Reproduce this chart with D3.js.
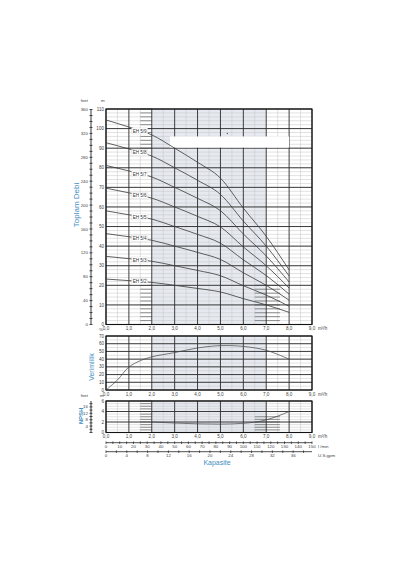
<!DOCTYPE html>
<html>
<head>
<meta charset="utf-8">
<script src="https://cdn.jsdelivr.net/npm/d3@7"></script>
<style>
  body { margin: 0; background: #fff; }
  text { font-family: "Liberation Sans", Arial, sans-serif; }
</style>
</head>
<body>
<div class="chartDiv"></div>
<script>
// Pump curves EH 5 series

const flow = [0, 1, 2, 3, 4, 5, 6, 7, 8];          // m3/h
const models = ["EH 5/9", "EH 5/8", "EH 5/7", "EH 5/6", "EH 5/5", "EH 5/4", "EH 5/3", "EH 5/2"];
const head59 = [104.4, 100.8, 96.8, 90.0, 82.8, 74.7, 59.4, 45.0, 27.9];
const head58 = [92.8, 89.6, 86.0, 80.0, 73.6, 66.4, 52.8, 40.0, 24.8];
const head57 = [81.2, 78.4, 75.3, 70.0, 64.4, 58.1, 46.2, 35.0, 21.7];
const head56 = [69.6, 67.2, 64.5, 60.0, 55.2, 49.8, 39.6, 30.0, 18.6];
const head55 = [58.0, 56.0, 53.8, 50.0, 46.0, 41.5, 33.0, 25.0, 15.5];
const head54 = [46.4, 44.8, 43.0, 40.0, 36.8, 33.2, 26.4, 20.0, 12.4];
const head53 = [34.8, 33.6, 32.3, 30.0, 27.6, 24.9, 19.8, 15.0, 9.3];
const head52 = [23.2, 22.4, 21.5, 20.0, 18.4, 16.6, 13.2, 10.0, 6.2];

const effFlow = [0, 0.5, 1, 1.5, 2, 3, 4, 5, 6, 7, 8];
const effValues = [0, 13, 29.8, 38, 43, 48.5, 54.5, 57.5, 56.5, 51.5, 40];   // %

const npshFlow = [2, 3, 4, 5, 6, 7, 8];
const npshValues = [2.0, 1.8, 1.65, 1.6, 1.75, 2.4, 4.0];                   // m

const flowTicks = [0, 1, 2, 3, 4, 5, 6, 7, 8, 9];
const headTicks = [0, 10, 20, 30, 40, 50, 60, 70, 80, 90, 100, 110];
const feetTicks = [0, 40, 80, 120, 160, 200, 240, 280, 320, 360];
const effTicks = [0, 10, 20, 30, 40, 50, 60, 70];
const npshTicks = [0, 2, 4, 6];
const npshFeetTicks = [4, 8, 12, 16];
const lminTicks = [0, 10, 20, 30, 40, 50, 60, 70, 80, 90, 100, 110, 120, 130, 140, 150];
const gpmTicks = [0, 4, 8, 12, 16, 20, 24, 28, 32, 36];

const heads = [head59, head58, head57, head56, head55, head54, head53, head52];

let svg = d3.select('.chartDiv')
            .append('svg')
            .attr('width', 400)
            .attr('height', 570);

const blue = '#3f8dc2';
const dark = '#2a2a2a';
const minorCol = '#c4c4c4';
const shade = '#e6eaf0';

let x = d3.scaleLinear().domain([0, 9]).range([106, 312]);
let yH = d3.scaleLinear().domain([0, 110]).range([324.5, 109]);
let yFt = d3.scaleLinear().domain([0, 110 * 3.2808]).range([324.5, 109]);
let yE = d3.scaleLinear().domain([0, 70]).range([390, 336]);
let yN = d3.scaleLinear().domain([0, 6]).range([432.5, 401]);
let yNFt = d3.scaleLinear().domain([0, 6 * 3.2808]).range([432.5, 401]);
let xL = d3.scaleLinear().domain([0, 150]).range([106, 312]);
let xG = d3.scaleLinear().domain([0, 9 * 4.4029]).range([106, 312]);

// panel with shading, grid, border and flow labels
let drawPanel = (y, majorStep, minorStep, hatch) => {
  let g = svg.append('g');
  let [y0, y1] = y.domain();

  g.append('rect')
   .attr('x', x(2)).attr('width', x(7) - x(2))
   .attr('y', y(y1)).attr('height', y(y0) - y(y1))
   .attr('fill', shade);

  d3.range(y0, y1 + 1e-9, minorStep).forEach(v => {
    g.append('line')
     .attr('x1', x(0)).attr('x2', x(9))
     .attr('y1', y(v)).attr('y2', y(v))
     .attr('stroke', minorCol).attr('stroke-width', 0.5);
  });
  d3.range(0.5, 9, 1).forEach(v => {
    g.append('line')
     .attr('x1', x(v)).attr('x2', x(v))
     .attr('y1', y(y0)).attr('y2', y(y1))
     .attr('stroke', minorCol).attr('stroke-width', 0.5);
  });

  // darker hatch segments seen in the original
  hatch.forEach(h => {
    d3.range(h[2], h[3] + 1e-9, minorStep).forEach(v => {
      g.append('line')
       .attr('x1', x(h[0])).attr('x2', x(h[1]))
       .attr('y1', y(v)).attr('y2', y(v))
       .attr('stroke', '#666').attr('stroke-width', 0.7);
    });
  });

  d3.range(y0, y1 + 1e-9, majorStep).forEach(v => {
    g.append('line')
     .attr('x1', x(0)).attr('x2', x(9))
     .attr('y1', y(v)).attr('y2', y(v))
     .attr('stroke', dark).attr('stroke-width', 0.9);
  });
  flowTicks.forEach(v => {
    g.append('line')
     .attr('x1', x(v)).attr('x2', x(v))
     .attr('y1', y(y0)).attr('y2', y(y1))
     .attr('stroke', dark).attr('stroke-width', 0.9);
  });

  g.append('rect')
   .attr('x', x(0)).attr('width', x(9) - x(0))
   .attr('y', y(y1)).attr('height', y(y0) - y(y1))
   .attr('fill', 'none').attr('stroke', '#111').attr('stroke-width', 1.1);

  g.selectAll('.fl')
   .data(flowTicks)
   .enter().append('text')
   .attr('x', d => x(d)).attr('y', y(y0) + 5.5)
   .attr('text-anchor', 'middle')
   .attr('font-size', 4.6).attr('fill', '#444')
   .text(d => d.toFixed(1).replace('.', ','));
  g.append('text')
   .attr('x', x(9) + 6).attr('y', y(y0) + 5.5)
   .attr('font-size', 4.6).attr('fill', '#444')
   .text('m³/h');
  return g;
};

let leftLabels = (y, ticks, xpos) => {
  svg.append('g').selectAll('text')
     .data(ticks)
     .enter().append('text')
     .attr('x', xpos).attr('y', d => y(d) + 1.6)
     .attr('text-anchor', 'end')
     .attr('font-size', 4.6).attr('fill', '#444')
     .text(d => d);
};

let feetAxis = (scale, ticks, minor) => {
  let ax = svg.append('g').attr('transform', 'translate(91,0)');
  ax.append('line')
    .attr('x1', 0).attr('x2', 0)
    .attr('y1', scale.range()[0]).attr('y2', scale.range()[1])
    .attr('stroke', '#222').attr('stroke-width', 0.9);
  d3.range(0, scale.domain()[1] + 1e-9, minor).forEach(v => {
    ax.append('line')
      .attr('x1', -1.5).attr('x2', 1.5)
      .attr('y1', scale(v)).attr('y2', scale(v))
      .attr('stroke', '#222').attr('stroke-width', 0.8);
  });
  ax.selectAll('text')
    .data(ticks)
    .enter().append('text')
    .attr('x', -3).attr('y', d => scale(d) + 1.6)
    .attr('text-anchor', 'end')
    .attr('font-size', 4.4).attr('fill', '#444')
    .text(d => d);
};

// ---- head chart
drawPanel(yH, 10, 2, [[1.5, 2, 90, 110], [1.5, 2, 0, 20], [6.5, 7.6, 0, 20]]);

// white patch over grid
svg.append('rect')
   .attr('x', x(2.8)).attr('width', x(8.0) - x(2.8))
   .attr('y', yH(96)).attr('height', yH(90.3) - yH(96))
   .attr('fill', '#fff');
svg.append('circle').attr('cx', x(5.3)).attr('cy', yH(97.5)).attr('r', 0.7).attr('fill', '#555');

let headLine = d3.line()
                 .x((d, i) => x(flow[i]))
                 .y(d => yH(d))
                 .curve(d3.curveMonotoneX);

svg.append('g').selectAll('path')
   .data(heads)
   .enter().append('path')
   .attr('d', headLine)
   .attr('fill', 'none')
   .attr('stroke', '#3a3a3a')
   .attr('stroke-width', 0.8);

heads.forEach((h, i) => {
  let yy = yH((h[1] + h[2]) / 2);
  let lg = svg.append('g').attr('transform', `translate(${x(1.47)},${yy})`);
  lg.append('rect')
    .attr('x', -8).attr('y', -3).attr('width', 16).attr('height', 6)
    .attr('fill', '#fff').attr('stroke', '#ccc').attr('stroke-width', 0.3);
  lg.append('text')
    .attr('text-anchor', 'middle').attr('y', 1.7)
    .attr('font-size', 4.6).attr('fill', '#333')
    .text(models[i]);
});

leftLabels(yH, headTicks, 104);
feetAxis(yFt, feetTicks, 10);
svg.append('text').attr('x', 88).attr('y', 102).attr('text-anchor', 'end')
   .attr('font-size', 4.4).attr('fill', '#444').text('feet');
svg.append('text').attr('x', 101).attr('y', 102)
   .attr('font-size', 4.4).attr('fill', '#444').text('m');

svg.append('text')
   .attr('transform', 'translate(79,205) rotate(-90)')
   .attr('text-anchor', 'middle')
   .attr('font-size', 8).attr('fill', blue)
   .text('Toplam Debi');

// ---- efficiency chart
drawPanel(yE, 10, 5, []);
svg.append('path')
   .datum(effValues)
   .attr('d', d3.line().x((d, i) => x(effFlow[i])).y(d => yE(d)).curve(d3.curveCatmullRom))
   .attr('fill', 'none').attr('stroke', '#444').attr('stroke-width', 0.7);
leftLabels(yE, effTicks, 104);
svg.append('text').attr('x', 99).attr('y', 331)
   .attr('font-size', 4.4).attr('fill', '#444').text('%');
svg.append('text')
   .attr('transform', 'translate(94,367) rotate(-90)')
   .attr('text-anchor', 'middle')
   .attr('font-size', 7).attr('fill', blue)
   .text('Verimlilik');

// ---- NPSH chart
drawPanel(yN, 2, 0.5, [[1.5, 2, 0, 6], [6.5, 7.6, 0, 3]]);
svg.append('path')
   .datum(npshValues)
   .attr('d', d3.line().x((d, i) => x(npshFlow[i])).y(d => yN(d)).curve(d3.curveMonotoneX))
   .attr('fill', 'none').attr('stroke', '#444').attr('stroke-width', 0.7);
leftLabels(yN, npshTicks, 104);
feetAxis(yNFt, npshFeetTicks, 2);
svg.append('text').attr('x', 88).attr('y', 397).attr('text-anchor', 'end')
   .attr('font-size', 4.4).attr('fill', '#444').text('feet');
svg.append('text').attr('x', 100).attr('y', 397)
   .attr('font-size', 4.4).attr('fill', '#444').text('m');
svg.append('text')
   .attr('transform', 'translate(83,416) rotate(-90)')
   .attr('text-anchor', 'middle')
   .attr('font-size', 6).attr('font-weight', 'bold').attr('fill', blue)
   .text('NPSH');

// ---- capacity axes
let capAxis = (scale, ticks, minor, ypos, unit) => {
  let ax = svg.append('g').attr('transform', `translate(0,${ypos})`);
  ax.append('line')
    .attr('x1', 106).attr('x2', 312)
    .attr('stroke', '#222').attr('stroke-width', 0.8);
  d3.range(0, scale.domain()[1] + 1e-9, minor).forEach(v => {
    ax.append('line')
      .attr('x1', scale(v)).attr('x2', scale(v))
      .attr('y1', -1.3).attr('y2', 1.3)
      .attr('stroke', '#222').attr('stroke-width', 0.7);
  });
  ax.selectAll('text.t')
    .data(ticks)
    .enter().append('text')
    .attr('x', d => scale(d)).attr('y', 5.5)
    .attr('text-anchor', 'middle')
    .attr('font-size', 4.4).attr('fill', '#444')
    .text(d => d);
  ax.append('text')
    .attr('x', 318).attr('y', 5.5)
    .attr('font-size', 4.4).attr('fill', '#444')
    .text(unit);
};
capAxis(xL, lminTicks, 5, 442.7, 'l /min');
capAxis(xG, gpmTicks, 2, 451.7, 'U.S.gpm');

svg.append('text')
   .attr('x', 217).attr('y', 465)
   .attr('text-anchor', 'middle')
   .attr('font-size', 7).attr('fill', blue)
   .text('Kapasite');
</script>
</body>
</html>
